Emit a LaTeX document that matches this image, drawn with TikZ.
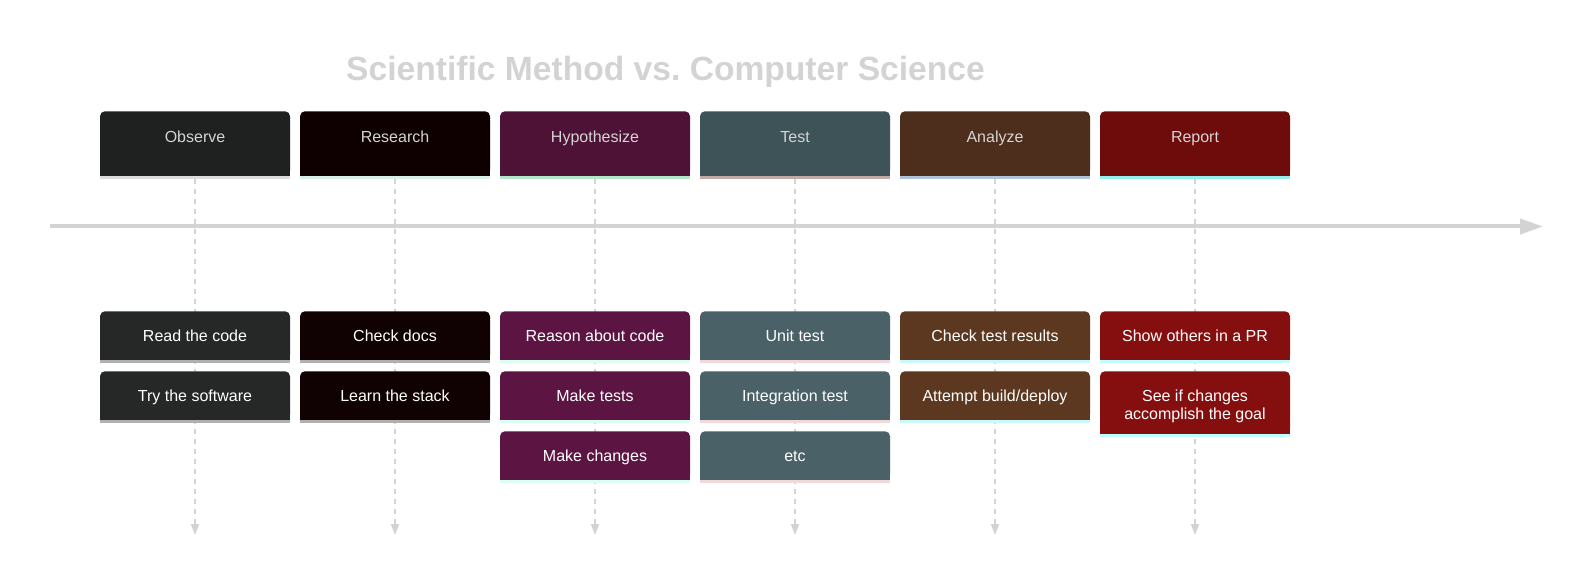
\documentclass[tikz,border=0pt]{standalone}
\usepackage{fontspec}
\setmainfont{Liberation Sans}
\usepackage{tikz}
\usetikzlibrary{arrows.meta,backgrounds}
\definecolor{linegray}{HTML}{D3D3D3}
\definecolor{hdrtxt}{HTML}{D4D4D4}
\definecolor{obsH}{HTML}{1F2121}\definecolor{obsT}{HTML}{262828}\definecolor{obsB}{HTML}{DCDCDC}\definecolor{obsTB}{HTML}{B0B0B0}
\definecolor{resH}{HTML}{0E0000}\definecolor{resT}{HTML}{100202}\definecolor{resB}{HTML}{D6EFE8}\definecolor{resTB}{HTML}{B0B0B0}
\definecolor{hypH}{HTML}{4E1237}\definecolor{hypT}{HTML}{5C1442}\definecolor{hypB}{HTML}{B3E6C9}\definecolor{hypTB}{HTML}{D9FFF0}
\definecolor{tstH}{HTML}{3E5358}\definecolor{tstT}{HTML}{4A6168}\definecolor{tstB}{HTML}{C1ABA5}\definecolor{tstTB}{HTML}{F2D9D9}
\definecolor{anaH}{HTML}{4D2D1C}\definecolor{anaT}{HTML}{5C3820}\definecolor{anaB}{HTML}{AFC4DA}\definecolor{anaTB}{HTML}{C9F8FF}
\definecolor{repH}{HTML}{6E0B0B}\definecolor{repT}{HTML}{850E0E}\definecolor{repB}{HTML}{93EEEE}\definecolor{repTB}{HTML}{BFFFFF}

\begin{document}
\begin{tikzpicture}[x=.75pt,y=-.75pt,
 card/.style 2 args={fill=#1,rounded corners=3.75pt,minimum width=142.5pt,inner ysep=0pt,anchor=north,align=center,
  font=\fontsize{12pt}{13.2pt}\selectfont,
  append after command={\pgfextra{\fill[#1]([yshift=4pt]\tikzlastnode.south west) rectangle (\tikzlastnode.south east);
   \draw[#2,line width=2.25pt]([yshift=-1.125pt]\tikzlastnode.south west)--([yshift=-1.125pt]\tikzlastnode.south east);}}},
 hdr/.style={text=hdrtxt,text height=23.25pt,text depth=24.75pt},
 task/.style={text=white,text height=23pt,text depth=13.2pt},
 axis/.style={draw=linegray,line width=3pt,-{Triangle[length=17.25pt,width=11.25pt]}},
 drop/.style={draw=linegray,line width=1.5pt,dash pattern=on 3.75pt off 3.75pt,-{Triangle[length=8.25pt,width=6pt]}}]
\useasboundingbox (0,0) rectangle (1590,584);
\node[anchor=base,text=linegray,font=\fontsize{25.2pt}{30pt}\selectfont\bfseries] (ttl) at (665.5,81) {Scientific Method vs.\ Computer Science};
% sections
\node[card={obsH}{obsB},hdr] (observe) at (195,111) {Observe};
\node[card={resH}{resB},hdr] (research) at (395,111) {Research};
\node[card={hypH}{hypB},hdr] (hypothesize) at (595,111) {Hypothesize};
\node[card={tstH}{tstB},hdr] (test) at (795,111) {Test};
\node[card={anaH}{anaB},hdr] (analyze) at (995,111) {Analyze};
\node[card={repH}{repB},hdr] (report) at (1195,111) {Report};
% time axis
\coordinate (ax0) at (50,226.5); \coordinate (ax1) at (1543,226.5);
\draw[axis] (ax0)--(ax1);
% events
\node[card={obsT}{obsTB},task] (readcode) at (195,311) {Read the code};
\node[card={obsT}{obsTB},task] (trysw) at (195,371) {Try the software};
\node[card={resT}{resTB},task] (docs) at (395,311) {Check docs};
\node[card={resT}{resTB},task] (stack) at (395,371) {Learn the stack};
\node[card={hypT}{hypTB},task] (reason) at (595,311) {Reason about code};
\node[card={hypT}{hypTB},task] (maketests) at (595,371) {Make tests};
\node[card={hypT}{hypTB},task] (changes) at (595,431) {Make changes};
\node[card={tstT}{tstTB},task] (unit) at (795,311) {Unit test};
\node[card={tstT}{tstTB},task] (integ) at (795,371) {Integration test};
\node[card={tstT}{tstTB},task] (etc) at (795,431) {etc};
\node[card={anaT}{anaTB},task] (results) at (995,311) {Check test results};
\node[card={anaT}{anaTB},task] (build) at (995,371) {Attempt build/deploy};
\node[card={repT}{repTB},task] (showpr) at (1195,311) {Show others in a PR};
\node[card={repT}{repTB},task,text height=36.2pt,text depth=10.5pt] (goal) at (1195,371) {See if changes\\accomplish the goal};
% drop lines behind the cards
\coordinate (e1) at (195,535); \coordinate (e2) at (395,535); \coordinate (e3) at (595,535);
\coordinate (e4) at (795,535); \coordinate (e5) at (995,535); \coordinate (e6) at (1195,535);
\begin{scope}[on background layer]
\draw[drop] ([yshift=-2.25pt]observe.south)--(e1);\draw[drop] ([yshift=-2.25pt]research.south)--(e2);
\draw[drop] ([yshift=-2.25pt]hypothesize.south)--(e3);\draw[drop] ([yshift=-2.25pt]test.south)--(e4);
\draw[drop] ([yshift=-2.25pt]analyze.south)--(e5);\draw[drop] ([yshift=-2.25pt]report.south)--(e6);
\end{scope}
\end{tikzpicture}
\end{document}
